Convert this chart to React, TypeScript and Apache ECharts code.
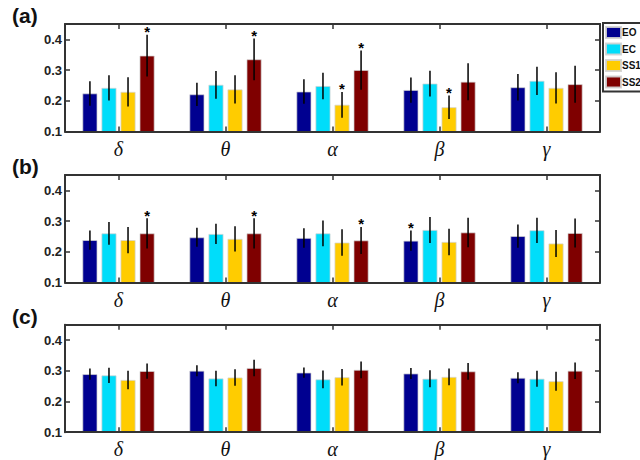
import React, { useEffect, useRef } from "react";
import * as echarts from "echarts";

const categories = ["δ", "θ", "α", "β", "γ"];
const seriesNames = ["EO", "EC", "SS1", "SS2"];
const colors = ["#000090", "#00DDFA", "#FFCC00", "#7F0000"];
const panelLabels = ["(a)", "(b)", "(c)"];
const yTicks = { min: 0.1, max: 0.45, interval: 0.1 };

// Panel (a)
const meanA = [
  [0.224, 0.221, 0.23, 0.235, 0.244],
  [0.242, 0.252, 0.248, 0.256, 0.265],
  [0.229, 0.237, 0.187, 0.179, 0.242],
  [0.347, 0.335, 0.3, 0.262, 0.254],
];
const errA = [
  [0.04, 0.038, 0.04, 0.041, 0.043],
  [0.041, 0.045, 0.043, 0.042, 0.046],
  [0.048, 0.046, 0.042, 0.038, 0.051],
  [0.068, 0.068, 0.064, 0.06, 0.06],
];
const sigA = [
  [0, 0, 0, 0, 0],
  [0, 0, 0, 0, 0],
  [0, 0, 1, 1, 0],
  [1, 1, 1, 0, 0],
];

// Panel (b)
const meanB = [
  [0.238, 0.247, 0.245, 0.236, 0.251],
  [0.26, 0.258, 0.26, 0.271, 0.27],
  [0.238, 0.242, 0.23, 0.232, 0.227],
  [0.26, 0.26, 0.237, 0.263, 0.261],
];
const errB = [
  [0.031, 0.031, 0.032, 0.033, 0.038],
  [0.037, 0.033, 0.042, 0.042, 0.041],
  [0.043, 0.041, 0.043, 0.043, 0.044],
  [0.049, 0.049, 0.044, 0.048, 0.047],
];
const sigB = [
  [0, 0, 0, 1, 0],
  [0, 0, 0, 0, 0],
  [0, 0, 0, 0, 0],
  [1, 1, 1, 0, 0],
];

// Panel (c)
const meanC = [
  [0.289, 0.3, 0.294, 0.291, 0.277],
  [0.285, 0.275, 0.272, 0.274, 0.274],
  [0.27, 0.278, 0.279, 0.28, 0.266],
  [0.299, 0.309, 0.303, 0.298, 0.3],
];
const errC = [
  [0.018, 0.018, 0.017, 0.018, 0.018],
  [0.025, 0.025, 0.029, 0.028, 0.026],
  [0.03, 0.027, 0.027, 0.027, 0.031],
  [0.025, 0.027, 0.027, 0.027, 0.027],
];
const sigC = [
  [0, 0, 0, 0, 0],
  [0, 0, 0, 0, 0],
  [0, 0, 0, 0, 0],
  [0, 0, 0, 0, 0],
];

const panels = [
  { mean: meanA, err: errA, sig: sigA },
  { mean: meanB, err: errB, sig: sigB },
  { mean: meanC, err: errC, sig: sigC },
];

const gridTops = [24, 175, 324.7];
const gridHeight = 107.5;
const BAR_W = 15;
const BAR_GAP = 0.27;

export default function App() {
  const ref = useRef<HTMLDivElement>(null);

  useEffect(() => {
    if (!ref.current) return;
    const chart = echarts.init(ref.current, null, { renderer: "svg" });

    const frame = { show: true, lineStyle: { color: "#333", width: 2 } };
    const tick = { show: true, inside: true, length: 5, lineStyle: { color: "#333", width: 1.5 } };

    const grid: any[] = [];
    const xAxis: any[] = [];
    const yAxis: any[] = [];
    const series: any[] = [];

    panels.forEach((p, i) => {
      grid.push({ left: 65, width: 535, top: gridTops[i], height: gridHeight });
      xAxis.push({
        type: "category",
        gridIndex: i,
        data: categories,
        position: "bottom",
        axisLine: frame,
        axisTick: { ...tick, alignWithLabel: true },
        axisLabel: {
          fontFamily: "Liberation Serif",
          fontStyle: "italic",
          fontSize: 20,
          color: "#111",
          margin: 7,
        },
        z: 5,
      });
      xAxis.push({
        type: "category",
        gridIndex: i,
        data: categories,
        position: "top",
        axisLine: frame,
        axisTick: { ...tick, alignWithLabel: true },
        axisLabel: { show: false },
        z: 5,
      });
      yAxis.push({
        type: "value",
        gridIndex: i,
        min: yTicks.min,
        max: yTicks.max,
        interval: yTicks.interval,
        position: "left",
        axisLine: frame,
        axisTick: tick,
        splitLine: { show: false },
        axisLabel: {
          showMaxLabel: false,
          fontFamily: "Liberation Sans",
          fontWeight: "bold",
          fontSize: 13,
          color: "#222",
          margin: 3,
        },
        z: 5,
      });
      yAxis.push({
        type: "value",
        gridIndex: i,
        min: yTicks.min,
        max: yTicks.max,
        interval: yTicks.interval,
        position: "right",
        axisLine: frame,
        axisTick: tick,
        splitLine: { show: false },
        axisLabel: { show: false },
        z: 5,
      });

      seriesNames.forEach((name, s) => {
        series.push({
          type: "bar",
          name,
          xAxisIndex: 2 * i,
          yAxisIndex: 2 * i,
          data: p.mean[s],
          barWidth: BAR_W,
          barGap: BAR_GAP * 100 + "%",
          itemStyle: { color: colors[s], borderColor: "rgba(210,210,210,0.9)", borderWidth: 0.8 },
          z: 2,
        });
      });

      const errData: number[][] = [];
      seriesNames.forEach((_, s) => {
        categories.forEach((_, c) => {
          errData.push([c, p.mean[s][c] - p.err[s][c], p.mean[s][c] + p.err[s][c], s, p.sig[s][c]]);
        });
      });

      series.push({
        type: "custom",
        name: "err" + i,
        xAxisIndex: 2 * i,
        yAxisIndex: 2 * i,
        data: errData,
        encode: { x: 0, y: [1, 2] },
        z: 4,
        renderItem: (params: any, api: any) => {
          const c = api.value(0);
          const lo = api.value(1);
          const hi = api.value(2);
          const s = api.value(3);
          const sg = api.value(4);
          const p0 = api.coord([c, lo]);
          const p1 = api.coord([c, hi]);
          const x = p0[0] + (s - 1.5) * BAR_W * (1 + BAR_GAP);
          const children: any[] = [
            {
              type: "line",
              shape: { x1: x, y1: p0[1], x2: x, y2: p1[1] },
              style: { stroke: "#000", lineWidth: 1.5 },
            },
          ];
          if (sg) {
            children.push({
              type: "text",
              x,
              y: p1[1] - 3,
              style: {
                text: "*",
                fill: "#000",
                fontSize: 15,
                fontFamily: "Liberation Sans",
                fontWeight: "bold",
                align: "center",
                verticalAlign: "middle",
              },
            });
          }
          return { type: "group", children };
        },
      });
    });

    const option: any = {
      animation: false,
      backgroundColor: "#fff",
      grid,
      xAxis,
      yAxis,
      series,
      legend: {
        data: seriesNames,
        orient: "vertical",
        left: 603,
        top: 23,
        itemWidth: 15,
        itemHeight: 11,
        itemGap: 3.5,
        padding: [3, 2, 3, 2],
        borderColor: "#333",
        borderWidth: 2,
        backgroundColor: "#fff",
        icon: "rect",
        selectedMode: false,
        textStyle: {
          fontFamily: "Liberation Sans",
          fontWeight: "bold",
          fontSize: 10,
          color: "#111",
          padding: [0, 0, 0, -4],
        },
      },
      graphic: panelLabels.map((t, i) => ({
        type: "text",
        left: 12,
        top: gridTops[i] - 19,
        style: {
          text: t,
          fontFamily: "Liberation Sans",
          fontWeight: "bold",
          fontSize: 21,
          fill: "#111",
        },
      })),
    };

    chart.setOption(option);
    return () => chart.dispose();
  }, []);

  return (
    <div
      ref={ref}
      style={{ position: "fixed", left: 0, top: 0, width: 640, height: 460 }}
    />
  );
}
